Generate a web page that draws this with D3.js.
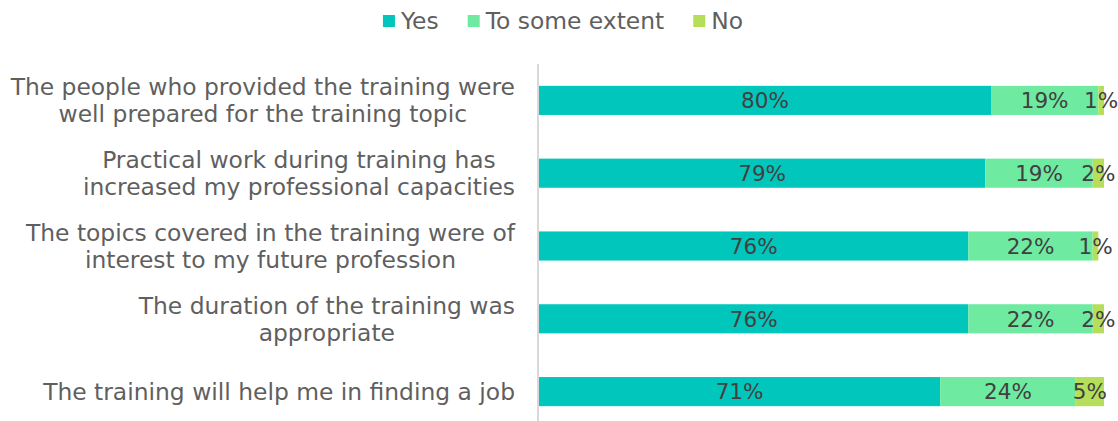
<!DOCTYPE html>
<html>
<head>
<meta charset="utf-8">
<script src="https://cdn.jsdelivr.net/npm/d3@7"></script>
<style>
  html, body { margin: 0; padding: 0; background: #fff; }
  svg text { font-family: "DejaVu Sans", sans-serif; }
</style>
</head>
<body>
<svg id="chart" width="1118" height="421"></svg>
<script>
// Survey statements (each is a list of display lines)
const categories = [
  ["The people who provided the training were", "well prepared for the training topic"],
  ["Practical work during training has", "increased my professional capacities"],
  ["The topics covered in the training were of", "interest to my future profession"],
  ["The duration of the training was", "appropriate"],
  ["The training will help me in finding a job"]
];
const seriesNames = ["Yes", "To some extent", "No"];
const yesValues = [80, 79, 76, 76, 71];
const someValues = [19, 19, 22, 22, 24];
const noValues = [1, 2, 1, 2, 5];
const colors = ["#00C6BC", "#6EEAA1", "#B5DF5B"];

const svg = d3.select("#chart");

const rows = categories.map((c, i) => ({
  key: i, lines: c, Yes: yesValues[i], "To some extent": someValues[i], No: noValues[i]
}));

const stack = d3.stack().keys(seriesNames)(rows);

const x = d3.scaleLinear().domain([0, 100]).range([539, 1104]);
const y = d3.scaleBand().domain(rows.map(r => r.key)).range([64, 428])
  .paddingInner(0.6).paddingOuter(0.3);

// Bars
const layers = svg.append("g").selectAll("g").data(stack).join("g")
  .attr("fill", (d, i) => colors[i]);
layers.selectAll("rect").data(d => d).join("rect")
  .attr("x", d => x(d[0]))
  .attr("width", d => x(d[1]) - x(d[0]))
  .attr("y", d => y(d.data.key))
  .attr("height", y.bandwidth());

// Value labels, centred in each segment
layers.each(function(layer) {
  d3.select(this).selectAll("text").data(layer).join("text")
    .attr("x", d => (x(d[0]) + x(d[1])) / 2)
    .attr("y", d => y(d.data.key) + y.bandwidth() / 2)
    .attr("dy", "0.36em")
    .attr("text-anchor", "middle")
    .attr("fill", "#404040")
    .attr("font-size", 21.5)
    .text(d => (d[1] - d[0]) + "%");
});

// Category axis line
svg.append("line")
  .attr("x1", 538).attr("x2", 538)
  .attr("y1", 64).attr("y2", 421)
  .attr("stroke", "#d9d9d9").attr("stroke-width", 2);

// Category labels: centred lines, block right-aligned to the axis
const labelRight = 515, lineH = 27, labelSize = 23.4;
rows.forEach(r => {
  const t = svg.append("text")
    .attr("font-size", labelSize).attr("fill", "#5f5f5f")
    .attr("text-anchor", "middle");
  const n = r.lines.length;
  const cy = y(r.key) + y.bandwidth() / 2;
  const spans = r.lines.map((ln, j) => t.append("tspan")
    .attr("y", cy + (j - (n - 1) / 2) * lineH)
    .attr("dy", "0.36em")
    .text(ln));
  const maxW = d3.max(spans, s => s.node().getComputedTextLength());
  spans.forEach(s => s.attr("x", labelRight - maxW / 2));
});

// Legend
const legend = svg.append("g");
const gap = 29;
let lx = 0;
seriesNames.forEach((name, i) => {
  const g = legend.append("g").attr("transform", `translate(${lx},0)`);
  g.append("rect").attr("x", 0).attr("y", -6).attr("width", 12).attr("height", 12).attr("fill", colors[i]);
  const t = g.append("text").attr("x", 18).attr("dy", "0.36em")
    .attr("font-size", labelSize).attr("fill", "#5f5f5f").text(name);
  lx += 18 + t.node().getComputedTextLength() + gap;
});
const legendW = lx - gap;
legend.attr("transform", `translate(${563 - legendW / 2},21)`);
</script>
</body>
</html>
